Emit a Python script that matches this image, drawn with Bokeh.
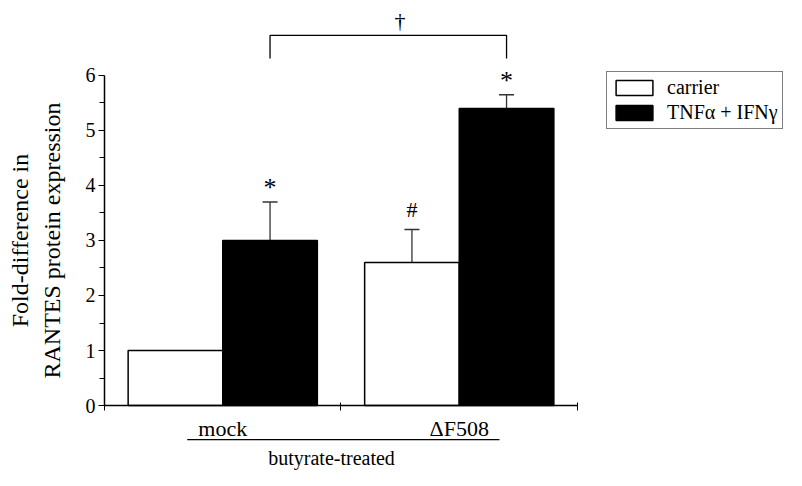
from bokeh.plotting import figure
from bokeh.models import (ColumnDataSource, Range1d, FixedTicker, Whisker, TeeHead,
                          Legend, LegendItem, LinearAxis)
from bokeh.core.properties import value
from bokeh.embed import file_html
from bokeh.resources import INLINE

# ---- data ----
groups = ["mock", "ΔF508"]
series = ["carrier", "TNFα + IFNγ"]
carrier = [1.0, 2.6]
carrier_err = [0.0, 0.6]
tnf = [3.0, 5.4]
tnf_err = [0.7, 0.25]
carrier_marks = ["", "#"]
tnf_marks = ["*", "*"]
y_ticks = [0, 1, 2, 3, 4, 5, 6]
group_label = "butyrate-treated"
bracket_mark = "†"
y_label = "Fold-difference in\nRANTES protein expression"

FONT = "Liberation Serif"
W, H = 786, 470

centers = [i + 0.5 for i in range(len(groups))]
off, bw = 0.2, 0.4
cx = [c - off for c in centers]
tx = [c + off for c in centers]

p = figure(width=W, height=H, output_backend="svg", toolbar_location=None,
           x_range=Range1d(-0.4397, 2.8837), y_range=Range1d(-1.1818, 7.3636),
           x_axis_location=None, y_axis_location=None, min_border=0)
p.grid.visible = False
p.outline_line_color = None
p.background_fill_color = "white"

# axes
yaxis = LinearAxis(fixed_location=0, bounds=(y_ticks[0], y_ticks[-1]),
                   ticker=FixedTicker(ticks=y_ticks,
                                      minor_ticks=[t + 0.5 for t in y_ticks[:-1]]))
yaxis.axis_line_width = 1.5
yaxis.axis_line_color = "black"
yaxis.major_tick_line_color = "black"
yaxis.minor_tick_line_color = "black"
yaxis.major_tick_out = 6
yaxis.major_tick_in = 0
yaxis.minor_tick_out = 5
yaxis.minor_tick_in = 0
yaxis.major_label_text_font = FONT
yaxis.major_label_text_font_size = "20px"
yaxis.major_label_text_color = "black"
yaxis.major_label_standoff = 3
yaxis.axis_label = y_label
yaxis.axis_label_text_font = FONT
yaxis.axis_label_text_font_size = "24px"
yaxis.axis_label_text_font_style = "normal"
yaxis.axis_label_text_color = "black"
yaxis.axis_label_standoff = 18
p.add_layout(yaxis, "left")

xaxis = LinearAxis(fixed_location=0, bounds=(0, len(groups)),
                   ticker=FixedTicker(ticks=list(range(len(groups) + 1))))
xaxis.major_label_overrides = {i: "" for i in range(len(groups) + 1)}
xaxis.axis_line_width = 1.5
xaxis.axis_line_color = "black"
xaxis.major_tick_in = 3
xaxis.major_tick_out = 5
xaxis.minor_tick_line_color = None
xaxis.major_tick_line_color = "black"
p.add_layout(xaxis, "below")

# bars
src_c = ColumnDataSource(dict(x=cx, top=carrier))
src_t = ColumnDataSource(dict(x=tx, top=tnf))
rc = p.vbar(x="x", top="top", width=bw, source=src_c, fill_color="white",
            line_color="black", line_width=1.5)
rt = p.vbar(x="x", top="top", width=bw, source=src_t, fill_color="black",
            line_color="black", line_width=1.5)

# error bars (upper only)
ex, elo, ehi = [], [], []
for xs, vals, errs in ((cx, carrier, carrier_err), (tx, tnf, tnf_err)):
    for x, v, e in zip(xs, vals, errs):
        if e > 0:
            ex.append(x); elo.append(v); ehi.append(v + e)
esrc = ColumnDataSource(dict(x=ex, lower=elo, upper=ehi))
p.add_layout(Whisker(source=esrc, base="x", lower="lower", upper="upper",
                     line_color="#333333", line_width=1.3, lower_head=None,
                     upper_head=TeeHead(size=15, line_color="#333333", line_width=1.3)))

# significance marks
mx, my, mt = [], [], []
for xs, vals, errs, marks in ((cx, carrier, carrier_err, carrier_marks),
                              (tx, tnf, tnf_err, tnf_marks)):
    for x, v, e, m in zip(xs, vals, errs, marks):
        if m:
            mx.append(x); my.append(v + e); mt.append(m)
star_x = [x for x, t in zip(mx, mt) if t == "*"]
star_y = [y for y, t in zip(my, mt) if t == "*"]
hash_x = [x for x, t in zip(mx, mt) if t == "#"]
hash_y = [y for y, t in zip(my, mt) if t == "#"]
p.text(x=star_x, y=star_y, text=["*"] * len(star_x), text_align="center",
       text_baseline="middle", y_offset=-14, text_font=value(FONT),
       text_font_size="26px", text_color="black")
p.text(x=hash_x, y=hash_y, text=["#"] * len(hash_x), text_align="center",
       text_baseline="middle", y_offset=-20, text_font=value(FONT),
       text_font_size="22px", text_color="black")

# bracket between the two treated bars
top_err = max(v + e for v, e in zip(tnf, tnf_err))
b_lo, b_hi = top_err + 0.66, top_err + 1.08
p.line(x=[tx[0], tx[0], tx[1], tx[1]], y=[b_lo, b_hi, b_hi, b_lo],
       line_color="black", line_width=1.3)
p.text(x=[(tx[0] + tx[1]) / 2 + 0.05], y=[b_hi], text=[bracket_mark],
       text_align="center", text_baseline="bottom", y_offset=-2,
       text_font=value(FONT), text_font_size="22px", text_color="black")

# group labels under the axis
p.text(x=centers, y=[-0.42] * len(centers), text=groups, text_align="center",
       text_baseline="alphabetic", text_font=value(FONT), text_font_size="22px",
       text_color="black")
p.line(x=[centers[0] - 0.15, centers[-1] + 0.17], y=[-0.62, -0.62],
       line_color="black", line_width=1.3)
p.text(x=[(centers[0] + centers[-1]) / 2 - 0.04], y=[-0.955], text=[group_label],
       text_align="center", text_baseline="alphabetic", text_font=value(FONT),
       text_font_size="20px", text_color="black")

# legend
legend = Legend(items=[LegendItem(label=series[0], renderers=[rc]),
                       LegendItem(label=series[1], renderers=[rt])],
                location=(606, 341), orientation="vertical",
                glyph_width=46, glyph_height=19, label_standoff=10,
                spacing=2, padding=4, margin=0,
                label_text_font=FONT, label_text_font_size="20px",
                label_text_color="black",
                border_line_color="black", border_line_width=1.5,
                background_fill_color="white", background_fill_alpha=1.0)
p.add_layout(legend)

open("out.html", "w").write(file_html(p, INLINE))
